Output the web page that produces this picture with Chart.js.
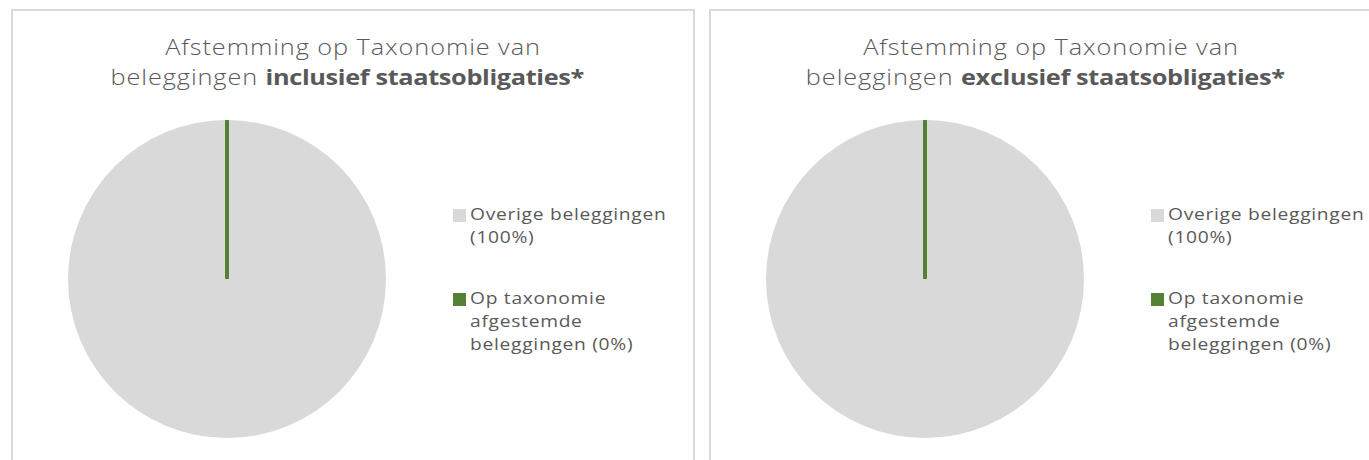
<!DOCTYPE html>
<html>
<head>
<meta charset="utf-8">
<script src="https://cdn.jsdelivr.net/npm/chart.js@4.4.0/dist/chart.umd.min.js"></script>
<style>
body { margin: 0; width: 1369px; height: 460px; overflow: hidden; background: #fff; position: relative;
       font-family: 'Open Sans', sans-serif; color: #595959; }
.panel { position: absolute; top: 9px; width: 680px; height: 520px; border: 2px solid #d9d9d9; }
.title { position: absolute; top: 20px; left: 0; width: 100%; text-align: center;
         font-size: 22px; line-height: 30px; font-weight: 300; letter-spacing: 0.8px;
         transform: scaleX(1.15); transform-origin: 50% 0; }
.title .l2 { position: relative; left: -5px; }
.title b { font-weight: 700; letter-spacing: -0.3px; }
.pie { position: absolute; left: 55px; top: 109px; }
.legend { position: absolute; left: 440px; top: 192px; font-size: 16px; line-height: 23px; }
.item { position: relative; padding-left: 17px; white-space: nowrap; margin-bottom: 38px; }
.item i { position: absolute; left: 0; top: 6px; width: 13px; height: 13px; }
.item span { display: inline-block; transform: scaleX(1.2); transform-origin: 0 0; letter-spacing: 0.6px; }
</style>
</head>
<body>
<div class="panel" style="left:11px">
  <div class="title">Afstemming op Taxonomie van<br><span class="l2">beleggingen <b>inclusief staatsobligaties*</b></span></div>
  <canvas class="pie" id="pieIncl" width="318" height="318"></canvas>
  <div class="legend" id="legendIncl"></div>
</div>
<div class="panel" style="left:709px">
  <div class="title">Afstemming op Taxonomie van<br><span class="l2">beleggingen <b>exclusief staatsobligaties*</b></span></div>
  <canvas class="pie" id="pieExcl" width="318" height="318"></canvas>
  <div class="legend" id="legendExcl"></div>
</div>
<script>
const categories = ['Overige beleggingen (100%)', 'Op taxonomie afgestemde beleggingen (0%)'];
const legendLines = [['Overige beleggingen', '(100%)'], ['Op taxonomie', 'afgestemde', 'beleggingen (0%)']];
const valuesIncl = [100, 0];
const valuesExcl = [100, 0];
const sliceColors = ['#d9d9d9', '#548235'];

// a 0% slice has no angle, so draw its edge as a line like the original does
const zeroSliceLine = {
    id: 'zeroSliceLine',
    afterDatasetsDraw(chart) {
        const ctx = chart.ctx;
        chart.data.datasets.forEach((ds, i) => {
            const meta = chart.getDatasetMeta(i);
            meta.data.forEach((arc, j) => {
                if (ds.data[j] !== 0) return;
                const p = arc.getProps(['x', 'y', 'startAngle', 'outerRadius'], true);
                ctx.save();
                ctx.strokeStyle = ds.backgroundColor[j];
                ctx.lineWidth = 4;
                ctx.beginPath();
                ctx.moveTo(p.x, p.y);
                ctx.lineTo(p.x + Math.cos(p.startAngle) * p.outerRadius, p.y + Math.sin(p.startAngle) * p.outerRadius);
                ctx.stroke();
                ctx.restore();
            });
        });
    }
};

function makePie(canvasId, legendId, values) {
    new Chart(document.getElementById(canvasId), {
        type: 'pie',
        data: {
            labels: categories,
            datasets: [{
                data: values,
                backgroundColor: sliceColors,
                borderWidth: 0
            }]
        },
        options: {
            responsive: false,
            animation: false,
            devicePixelRatio: 1,
            layout: { padding: 0 },
            plugins: {
                legend: { display: false },
                tooltip: { enabled: false }
            }
        },
        plugins: [zeroSliceLine]
    });

    const legendEl = document.getElementById(legendId);
    categories.forEach((cat, k) => {
        const item = document.createElement('div');
        item.className = 'item';
        item.innerHTML = '<i style="background:' + sliceColors[k] + '"></i><span>' + legendLines[k].join('<br>') + '</span>';
        legendEl.appendChild(item);
    });
}

makePie('pieIncl', 'legendIncl', valuesIncl);
makePie('pieExcl', 'legendExcl', valuesExcl);
</script>
</body>
</html>
